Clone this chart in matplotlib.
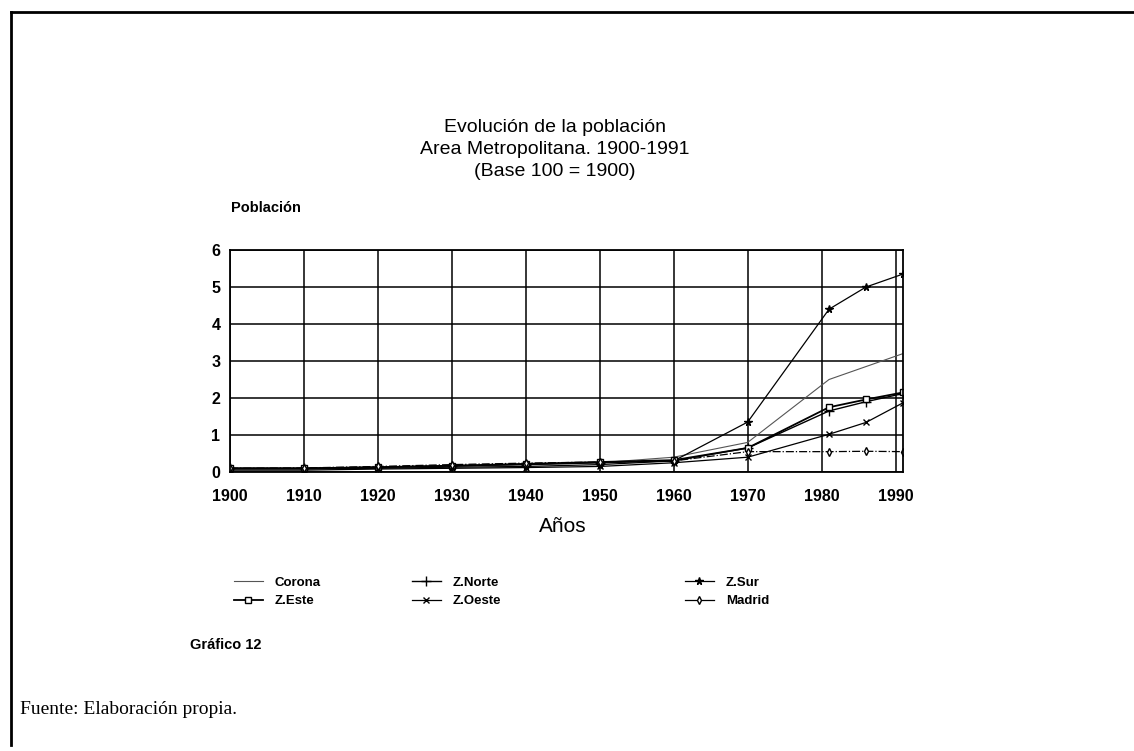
import numpy as np
import matplotlib
matplotlib.use('Agg')
import matplotlib.pyplot as plt
from matplotlib.lines import Line2D

plt.rcParams['font.family'] = ['Liberation Sans', 'DejaVu Sans']

# datos
anios = [1900, 1910, 1920, 1930, 1940, 1950, 1960, 1970, 1981, 1986, 1991]
corona = [0.10, 0.10, 0.12, 0.15, 0.20, 0.25, 0.40, 0.80, 2.50, 2.85, 3.20]
z_norte = [0.10, 0.10, 0.13, 0.17, 0.20, 0.25, 0.30, 0.65, 1.65, 1.90, 2.12]
z_sur = [0.08, 0.08, 0.10, 0.13, 0.15, 0.20, 0.30, 1.35, 4.40, 5.00, 5.35]
z_este = [0.10, 0.10, 0.13, 0.17, 0.22, 0.27, 0.32, 0.65, 1.75, 1.96, 2.15]
z_oeste = [0.05, 0.05, 0.08, 0.10, 0.12, 0.15, 0.25, 0.40, 1.02, 1.34, 1.87]
madrid = [0.10, 0.11, 0.15, 0.20, 0.24, 0.27, 0.30, 0.55, 0.55, 0.56, 0.55]

xticks = [1900, 1910, 1920, 1930, 1940, 1950, 1960, 1970, 1980, 1990]
yticks = [0, 1, 2, 3, 4, 5, 6]

fig = plt.figure(figsize=(11.34, 7.51), dpi=100)
ax = fig.add_axes([230 / 1134, 1 - 472 / 751, (903 - 230) / 1134, (472 - 250) / 751])

series = [
    ('Corona', corona, dict(color='#555555', lw=0.8, ls='-', marker=None)),
    ('Z.Norte', z_norte, dict(color='black', lw=1.0, ls='-', marker='+', ms=7)),
    ('Z.Sur', z_sur, dict(color='black', lw=0.9, ls='-', marker='*', ms=5.5)),
    ('Z.Este', z_este, dict(color='black', lw=1.3, ls='-', marker='s', ms=5, mfc='white')),
    ('Z.Oeste', z_oeste, dict(color='black', lw=0.9, ls='-', marker='x', ms=5)),
    ('Madrid', madrid, dict(color='black', lw=0.9, ls='-.', marker='d', ms=4, mfc='white')),
]
handles = {}
for name, vals, st in series:
    ax.plot(anios, vals, **st)
    handles[name] = Line2D([], [], **{k: v for k, v in st.items() if k != 'ls'}, ls='-')

ax.set_xlim(1900, 1991)
ax.set_ylim(0, 6)
ax.set_xticks(xticks)
ax.set_yticks(yticks)
ax.grid(True, color='black', lw=1.1)
ax.tick_params(length=0, labelsize=11.5)
ax.tick_params(axis='x', pad=12)
ax.tick_params(axis='y', pad=7)
for lab in ax.get_xticklabels() + ax.get_yticklabels():
    lab.set_fontweight('bold')
for s in ax.spines.values():
    s.set_linewidth(1.3)

fig.text(555 / 1134, 1 - 128 / 751, 'Evolución de la población', ha='center', va='center', fontsize=14)
fig.text(555 / 1134, 1 - 150 / 751, 'Area Metropolitana. 1900-1991', ha='center', va='center', fontsize=14)
fig.text(555 / 1134, 1 - 172 / 751, '(Base 100 = 1900)', ha='center', va='center', fontsize=14)
fig.text(231 / 1134, 1 - 208 / 751, 'Población', ha='left', va='center', fontsize=10.5, fontweight='bold')
fig.text(563 / 1134, 1 - 527 / 751, 'Años', ha='center', va='center', fontsize=15)

cols = [(['Corona', 'Z.Este'], 222), (['Z.Norte', 'Z.Oeste'], 400), (['Z.Sur', 'Madrid'], 673)]
for names, xp in cols:
    fig.legend([handles[n] for n in names], names, loc='upper left',
               bbox_to_anchor=(xp / 1134, 1 - 565 / 751), frameon=False,
               prop=dict(size=9.5, weight='bold'), handlelength=2.2,
               labelspacing=0.45, handletextpad=0.9)

fig.text(190 / 1134, 1 - 645 / 751, 'Gráfico 12', ha='left', va='center', fontsize=10.5, fontweight='bold')
fig.text(20 / 1134, 1 - 710 / 751, 'Fuente: Elaboración propia.', ha='left', va='center',
         fontsize=14, family=['Liberation Serif', 'DejaVu Serif'])

# marco de la pagina
fig.add_artist(Line2D([11 / 1134, 1.0], [1 - 12 / 751, 1 - 12 / 751], color='black', lw=2))
fig.add_artist(Line2D([11 / 1134, 11 / 1134], [1 - 12 / 751, 1 - 745 / 751], color='black', lw=2))

fig.savefig('out.png', dpi=100)
